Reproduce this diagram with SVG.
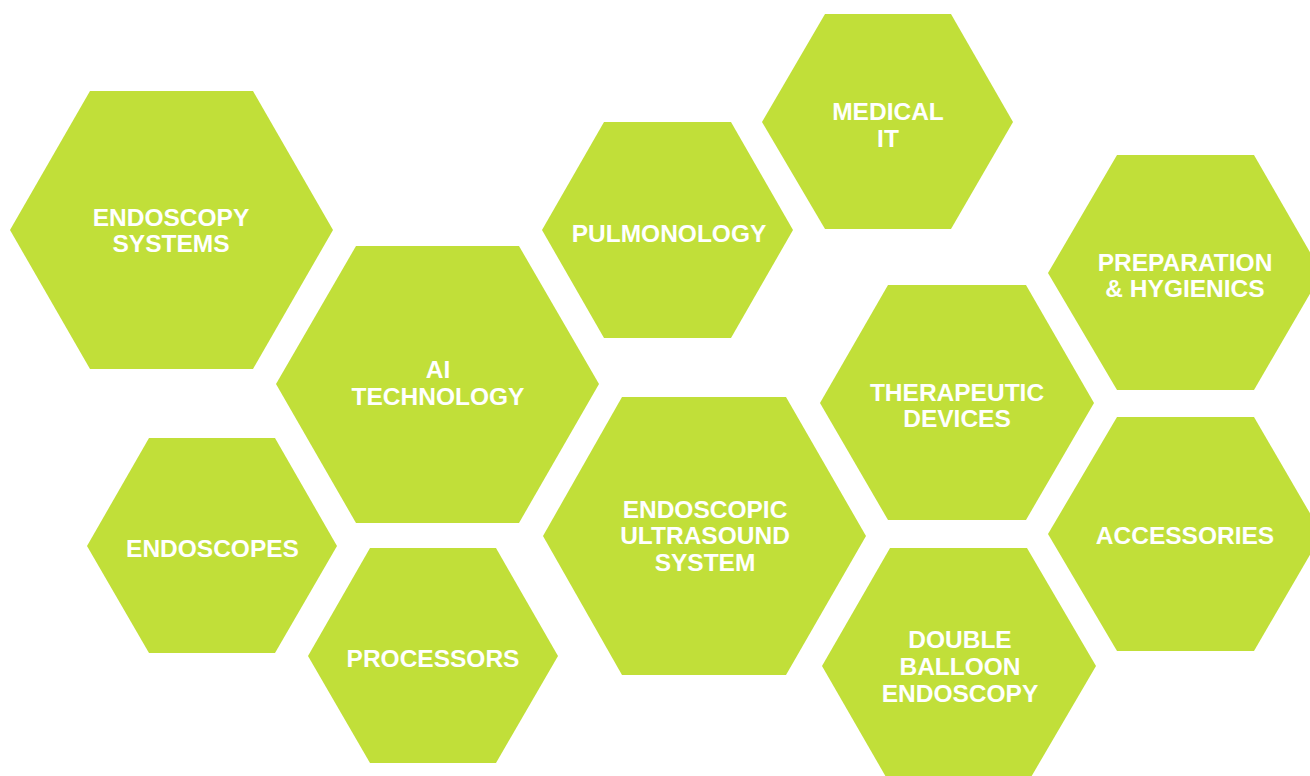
<svg xmlns="http://www.w3.org/2000/svg" width="1310" height="776" viewBox="0 0 1310 776">
<style>
.hex{fill:#c1df39}
.lbl{fill:#ffffff;font-family:"Liberation Sans",Arial,Helvetica,sans-serif;font-weight:bold;font-size:24.5px;text-anchor:middle}
</style>
<rect width="1310" height="776" fill="#ffffff"/>
<g id="endoscopy-systems"><polygon class="hex" points="90,91 253,91 333,230 253,369 90,369 10,230"/><text class="lbl" x="171" y="225.7">ENDOSCOPY</text><text class="lbl" x="171" y="251.7">SYSTEMS</text></g>
<g id="ai-technology"><polygon class="hex" points="356,246 519,246 599,384 519,523 356,523 276,384"/><text class="lbl" x="438" y="377.7">AI</text><text class="lbl" x="438" y="404.5">TECHNOLOGY</text></g>
<g id="pulmonology"><polygon class="hex" points="604,122 731,122 793,230 731,338 604,338 542,230"/><text class="lbl" x="669" y="241.7">PULMONOLOGY</text></g>
<g id="medical-it"><polygon class="hex" points="825,14 951,14 1013,122 951,229 825,229 762,122"/><text class="lbl" x="888" y="120">MEDICAL</text><text class="lbl" x="888" y="146.7">IT</text></g>
<g id="preparation-hygienics"><polygon class="hex" points="1117,155 1254,155 1322,273 1254,390 1117,390 1048,273"/><text class="lbl" x="1185" y="270.7">PREPARATION</text><text class="lbl" x="1185" y="297.3">&amp; HYGIENICS</text></g>
<g id="therapeutic-devices"><polygon class="hex" points="888,285 1026,285 1094,403 1026,520 888,520 820,403"/><text class="lbl" x="957" y="400.7">THERAPEUTIC</text><text class="lbl" x="957" y="427.3">DEVICES</text></g>
<g id="accessories"><polygon class="hex" points="1117,417 1254,417 1322,534 1254,651 1117,651 1048,534"/><text class="lbl" x="1185" y="544.3">ACCESSORIES</text></g>
<g id="endoscopic-ultrasound-system"><polygon class="hex" points="622,397 786,397 866,536 786,675 622,675 543,536"/><text class="lbl" x="705" y="517.7">ENDOSCOPIC</text><text class="lbl" x="705" y="544.3">ULTRASOUND</text><text class="lbl" x="705" y="571">SYSTEM</text></g>
<g id="double-balloon-endoscopy"><polygon class="hex" points="890,548 1027,548 1096,666 1027,784 890,784 822,666"/><text class="lbl" x="960" y="648.3">DOUBLE</text><text class="lbl" x="960" y="675.3">BALLOON</text><text class="lbl" x="960" y="702.3">ENDOSCOPY</text></g>
<g id="endoscopes"><polygon class="hex" points="149,438 275,438 337,546 275,653 149,653 87,546"/><text class="lbl" x="212.5" y="556.7">ENDOSCOPES</text></g>
<g id="processors"><polygon class="hex" points="370,548 496,548 558,656 496,763 370,763 308,656"/><text class="lbl" x="433" y="666.7">PROCESSORS</text></g>
<g id="connectors"/>
</svg>
